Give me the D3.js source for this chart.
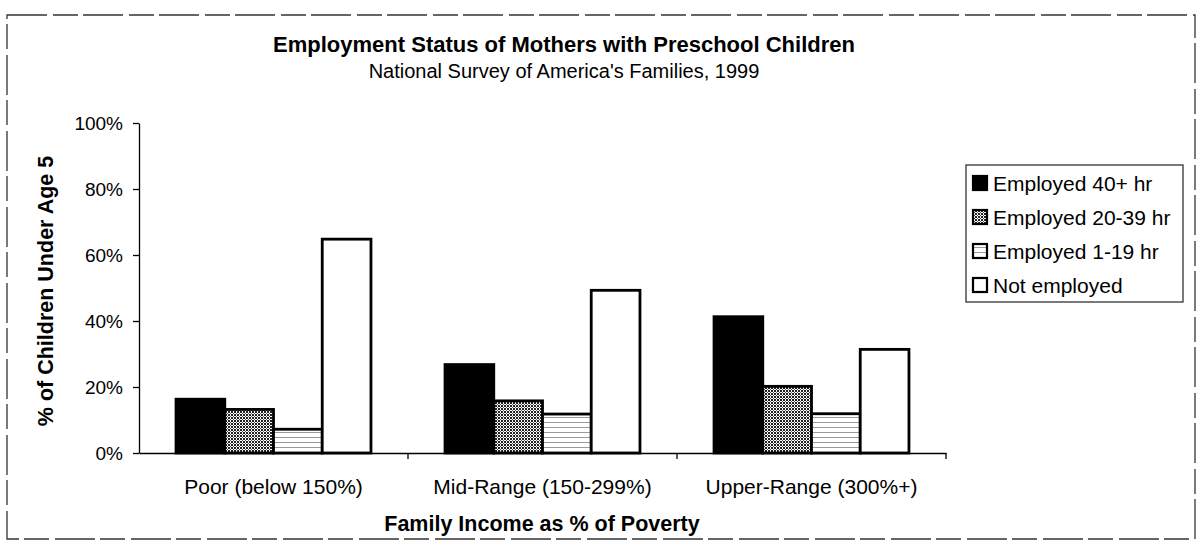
<!DOCTYPE html>
<html><head><meta charset="utf-8">
<script src="https://cdn.jsdelivr.net/npm/d3@7"></script>
<style>body{margin:0;background:#fff}svg{display:block;font-family:"Liberation Sans",Arial,sans-serif}</style>
</head><body><svg id="c" width="1203" height="542"></svg>
<script>
const categories = ["Poor (below 150%)", "Mid-Range (150-299%)", "Upper-Range (300%+)"];
const series = ["Employed 40+ hr", "Employed 20-39 hr", "Employed 1-19 hr", "Not employed"];
const employed40 = [16.3, 26.8, 41.3];
const employed20 = [13.2, 15.8, 20.2];
const employed1  = [7.2, 11.8, 11.9];
const notEmployed = [64.8, 49.3, 31.4];
const yTicks = [0, 20, 40, 60, 80, 100];
const values = [employed40, employed20, employed1, notEmployed];

const svg = d3.select("#c");
const defs = svg.append("defs");
const dots = defs.append("pattern").attr("id","dots").attr("patternUnits","userSpaceOnUse").attr("width",3).attr("height",3);
dots.append("rect").attr("width",3).attr("height",3).attr("fill","#fff");
dots.append("rect").attr("width",2).attr("height",2).attr("fill","#222");
dots.append("rect").attr("x",2).attr("y",2).attr("width",1).attr("height",1).attr("fill","#555");
const lines = defs.append("pattern").attr("id","lines").attr("patternUnits","userSpaceOnUse").attr("width",8).attr("height",5);
lines.append("rect").attr("width",8).attr("height",5).attr("fill","#fff");
lines.append("rect").attr("y",2).attr("width",8).attr("height",1).attr("fill","#9a9a9a");
const fills = ["#000", "url(#dots)", "url(#lines)", "#fff"];

// outer dashed border
svg.append("rect").attr("x",7).attr("y",15).attr("width",1188).attr("height",524)
  .attr("fill","none").attr("stroke","#333").attr("stroke-width",1.3).attr("stroke-dasharray","40 6 25 5");

const L=139, R=946, T=123, B=453;
const x = d3.scaleBand().domain(categories).range([L,R]);
const xs = d3.scaleBand().domain(series).range([0,x.bandwidth()]).paddingInner(0).paddingOuter(0.76);
const y = d3.scaleLinear().domain([0,100]).range([B,T]);

// bars
categories.forEach((c,ci)=>{
  series.forEach((s,si)=>{
    const v = values[si][ci];
    svg.append("rect").attr("x",x(c)+xs(s)).attr("y",y(v)).attr("width",xs.bandwidth()).attr("height",B-y(v))
      .attr("fill",fills[si]).attr("stroke","#000").attr("stroke-width",2.8);
  });
});

// axes
const ya = svg.append("g").attr("transform",`translate(${L},0)`)
  .call(d3.axisLeft(y).tickValues(yTicks).tickFormat(d=>d+"%").tickSize(6).tickSizeOuter(0));
ya.select(".domain").attr("stroke","#000").attr("stroke-width",1.3);
ya.selectAll(".tick line").attr("stroke","#000").attr("stroke-width",1.3);
ya.selectAll(".tick text").attr("font-size",19).attr("fill","#000").attr("x",-16).attr("dy","0.36em");

const xa = svg.append("g").attr("transform",`translate(0,${B})`)
  .call(d3.axisBottom(x).tickSize(0).tickSizeOuter(0));
xa.select(".domain").attr("stroke","#000").attr("stroke-width",1.3);
xa.selectAll(".tick text").attr("font-size",21).attr("fill","#000").attr("y",26).attr("dy","0.71em");
// category boundary ticks
const bounds = categories.map(c=>x(c)+x.bandwidth());
svg.selectAll(".bt").data(bounds).enter().append("line")
  .attr("x1",d=>d).attr("x2",d=>d).attr("y1",B).attr("y2",B+6).attr("stroke","#000").attr("stroke-width",1.3);

// titles
svg.append("text").attr("x",564).attr("y",52).attr("text-anchor","middle").attr("font-size",22).attr("font-weight","bold").text("Employment Status of Mothers with Preschool Children");
svg.append("text").attr("x",564).attr("y",78).attr("text-anchor","middle").attr("font-size",20).text("National Survey of America's Families, 1999");
svg.append("text").attr("transform","translate(53,291) rotate(-90)").attr("text-anchor","middle").attr("font-size",21.5).attr("font-weight","bold").text("% of Children Under Age 5");
svg.append("text").attr("x",542).attr("y",531).attr("text-anchor","middle").attr("font-size",21.5).attr("font-weight","bold").text("Family Income as % of Poverty");

// legend
const lg = svg.append("g");
lg.append("rect").attr("x",966).attr("y",165).attr("width",217).attr("height",137).attr("fill","#fff").attr("stroke","#333").attr("stroke-width",1.3);
series.forEach((s,i)=>{
  const cy = 183 + i*34;
  lg.append("rect").attr("x",973).attr("y",cy-7).attr("width",14).attr("height",14).attr("fill",fills[i]).attr("stroke","#000").attr("stroke-width",2.2);
  lg.append("text").attr("x",993).attr("y",cy).attr("dy","0.36em").attr("font-size",21).text(s);
});
</script></body></html>
